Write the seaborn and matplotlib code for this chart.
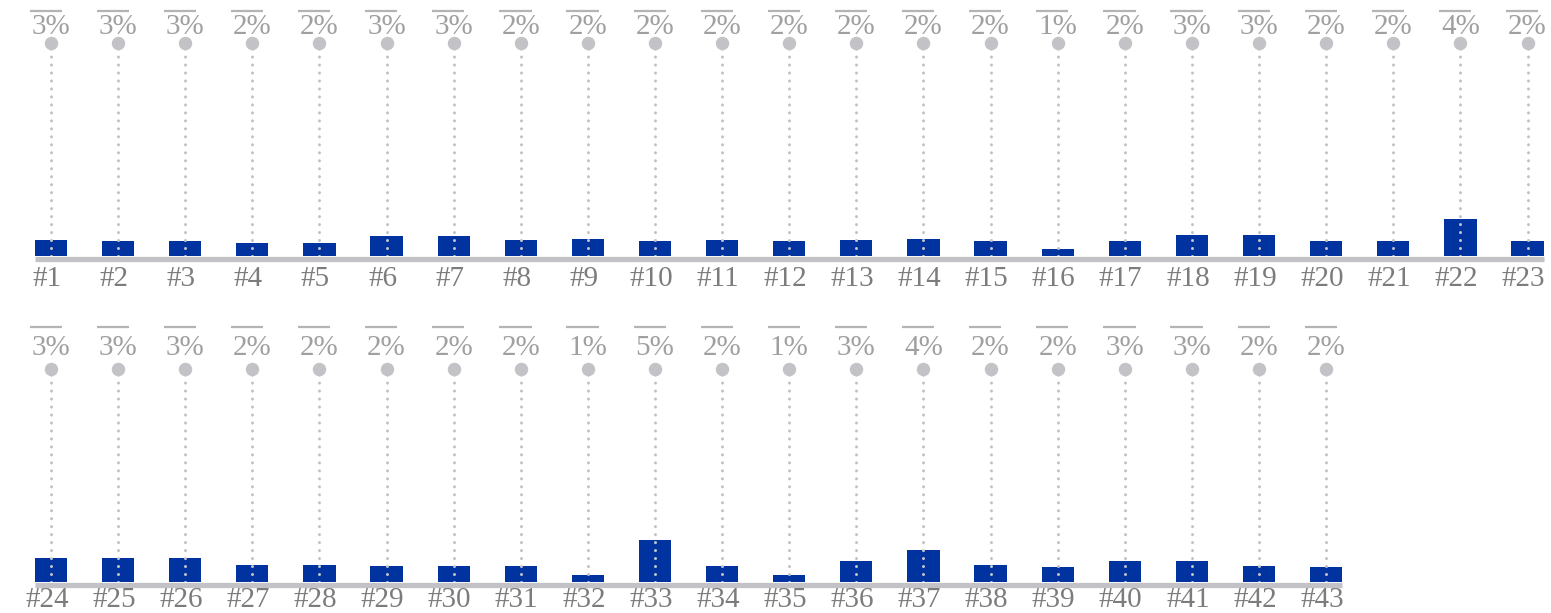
import matplotlib
matplotlib.use("Agg")
import matplotlib.pyplot as plt
import seaborn as sns

# data (bar heights in %, printed labels as shown)
labels_top = [f"#{i}" for i in range(1, 24)]
values_top = [2.1, 2.0, 2.0, 1.7, 1.7, 2.7, 2.7, 2.1, 2.3, 2.0, 2.1, 2.0,
              2.1, 2.3, 2.0, 0.9, 2.0, 2.8, 2.8, 2.0, 2.0, 4.9, 2.0]
pct_top = [3, 3, 3, 2, 2, 3, 3, 2, 2, 2, 2, 2, 2, 2, 2, 1, 2, 3, 3, 2, 2, 4, 2]

labels_bottom = [f"#{i}" for i in range(24, 44)]
values_bottom = [3.2, 3.2, 3.2, 2.3, 2.3, 2.1, 2.1, 2.1, 0.9, 5.6,
                 2.1, 0.9, 2.8, 4.3, 2.3, 2.0, 2.8, 2.8, 2.1, 2.0]
pct_bottom = [3, 3, 3, 2, 2, 2, 2, 2, 1, 5, 2, 1, 3, 4, 2, 2, 3, 3, 2, 2]

BLUE = "#0033a0"
LIGHT = "#c3c3c7"
PCT_GREY = "#a0a0a0"
LABEL_GREY = "#7c7c7c"
BAR_W = 0.48
DOT_Y = 28.4
PX_PER_UNIT = 7.5
H = 613

sns.set_style("white")
plt.rcParams["font.family"] = ["Liberation Serif", "DejaVu Serif"]

fig = plt.figure(figsize=(15.51, 6.13), dpi=100)


def draw_row(ax, labels, values, pct, text_y, over_y, label_y):
    n = len(labels)
    sns.barplot(x=labels, y=values, ax=ax, color=BLUE, width=BAR_W,
                saturation=1, edgecolor="none", zorder=2)
    xs = range(n)
    ax.vlines(xs, 0, DOT_Y, colors=LIGHT, linestyles=(0, (0.01, 2.6)),
              linewidth=2.2, capstyle="round", zorder=3)
    ax.scatter(xs, [DOT_Y] * n, s=75, color=LIGHT, zorder=4, clip_on=False)
    ax.hlines(-0.35, -BAR_W / 2, n - 1 + BAR_W / 2, colors=LIGHT,
              linewidth=3.8, zorder=1, clip_on=False)
    for i, (lab, p) in enumerate(zip(labels, pct)):
        ax.text(i, text_y, f"{p}%", ha="center", va="center", fontsize=21,
                color=PCT_GREY, clip_on=False)
        ax.hlines(over_y, i - 0.32, i + 0.16, colors="#b4b4b4",
                  linewidth=1.6, clip_on=False)
        ax.text(i - 0.06, label_y, lab, ha="center", va="center", fontsize=21,
                color=LABEL_GREY, clip_on=False)
    ax.set_xlim(-0.76, 22.35)
    ax.axis("off")


# top row: baseline at 256 px from the top
base1 = 256
ax1 = fig.add_axes([0, 1 - base1 / H, 1, base1 / H])
ax1.set_ylim(0, base1 / PX_PER_UNIT)
draw_row(ax1, labels_top, values_top, pct_top, 30.5, 32.7, -3.0)

# bottom row: baseline at 582 px from the top
base2, top2 = 582, 300
ax2 = fig.add_axes([0, 1 - base2 / H, 1, (base2 - top2) / H])
ax2.set_ylim(0, (base2 - top2) / PX_PER_UNIT)
draw_row(ax2, labels_bottom, values_bottom, pct_bottom, 31.2, 34.0, -2.4)

fig.savefig("out.png", dpi=100)
